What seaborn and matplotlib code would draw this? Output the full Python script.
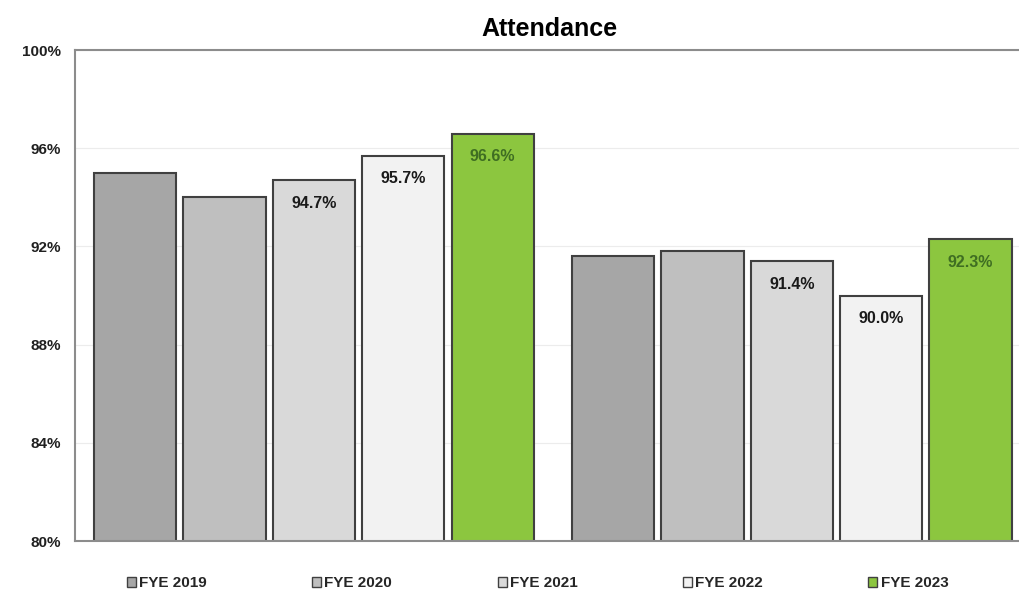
import pandas as pd
import matplotlib.pyplot as plt
import seaborn as sns

# Attendance rates by year (two groups, no visible category labels)
groups = ["Group 1", "Group 2"]
years = ["FYE 2019", "FYE 2020", "FYE 2021", "FYE 2022", "FYE 2023"]
group1 = [95.0, 94.0, 94.7, 95.7, 96.6]
group2 = [91.6, 91.8, 91.4, 90.0, 92.3]
labelled_years = ["FYE 2021", "FYE 2022", "FYE 2023"]

colors = ["#a6a6a6", "#bfbfbf", "#d9d9d9", "#f2f2f2", "#8cc63f"]

data = pd.DataFrame({
    "group": [groups[0]] * len(years) + [groups[1]] * len(years),
    "year": years * 2,
    "rate": group1 + group2,
})

sns.set_theme(style="white")
plt.rcParams["font.family"] = ["Liberation Sans", "DejaVu Sans"]

fig = plt.figure(figsize=(10.2, 5.98), dpi=100)
ax = fig.add_axes([0.0735, 0.0953, 0.93, 0.821])

sns.barplot(data=data, x="group", y="rate", hue="year", palette=colors,
            saturation=1, width=0.935, gap=0.08, edgecolor="#404040",
            linewidth=1.5, legend=False, ax=ax)

ax.set_ylim(80, 100)
ax.set_xlim(-0.5, 1.485)
ax.set_yticks([80, 84, 88, 92, 96, 100])
ax.set_yticklabels([f"{t}%" for t in [80, 84, 88, 92, 96, 100]],
                   fontsize=11, fontweight="bold", color="#202020")
ax.set_xticks([])
ax.set_xlabel("")
ax.set_ylabel("")
ax.tick_params(axis="y", length=0, pad=10)
ax.yaxis.grid(True, color="#ececec", linewidth=0.8)
ax.set_axisbelow(True)
for side in ["left", "top", "bottom", "right"]:
    ax.spines[side].set_color("#8c8c8c")
    ax.spines[side].set_linewidth(1.5)

# value labels inside the top of the last three bars
for cont, year in zip(ax.containers, years):
    if year in labelled_years:
        col = "#3f6e22" if year == "FYE 2023" else "#1a1a1a"
        ax.bar_label(cont, labels=[f"{b.get_height():.1f}%" for b in cont],
                     padding=-22, fontsize=11.5, fontweight="bold", color=col)

ax.set_title("Attendance", fontsize=18, fontweight="bold", color="black", pad=10)

handles = [plt.Rectangle((0, 0), 1, 1, facecolor=c, edgecolor="#404040", linewidth=1)
           for c in colors]
fig.legend(handles, years, loc="lower center", bbox_to_anchor=(0.527, -0.01),
           ncol=5, frameon=False, handlelength=0.6, handleheight=0.6,
           handletextpad=0.2, columnspacing=6.9,
           prop={"weight": "bold", "size": 11})

fig.savefig("out.png", dpi=100)
